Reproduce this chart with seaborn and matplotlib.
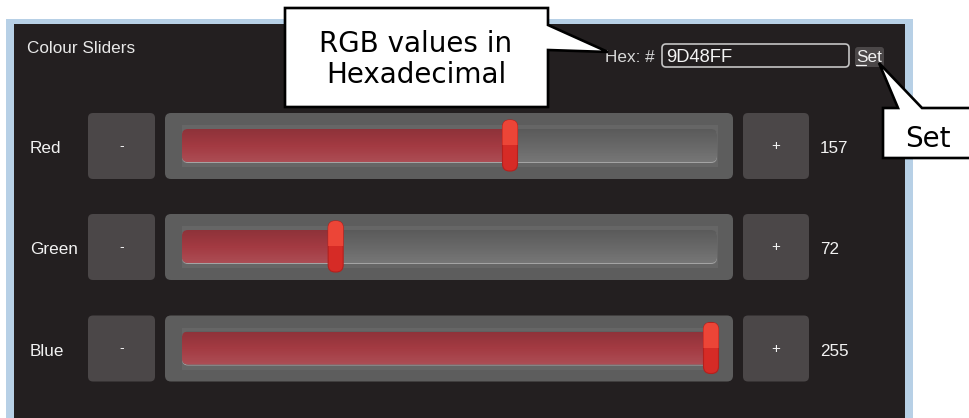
import numpy as np
import matplotlib
matplotlib.use("Agg")
import matplotlib.pyplot as plt
from matplotlib.patches import FancyBboxPatch, Rectangle, Polygon
import seaborn as sns

# Widget data
title = "Colour Sliders"
channels = ["Red", "Green", "Blue"]
values = [157, 72, 255]
max_value = 255
hex_value = "9D48FF"
callout_hex = ["RGB values in", "Hexadecimal"]
callout_set = "Set"

sns.set_theme(style="white")
plt.rcParams['font.family'] = ['Liberation Sans', 'DejaVu Sans']

BG = '#231f20'
PANEL = '#5d5d5d'
BUTTON = '#4b4748'
TEXT = '#f2f2f2'

row_y = [146, 247, 348.5]
track_x0, track_x1 = 182, 717


def thumb_x(v):
    # thumb centre travels from 188 px (0) to 711 px (255)
    return 188 + 523 * v / max_value


def rbox(ax, x, y, w, h, r, **kw):
    p = FancyBboxPatch((x, y), w, h, boxstyle=f"round,pad=0,rounding_size={r}", **kw)
    ax.add_patch(p)
    return p


fig = plt.figure(figsize=(9.69, 4.18), dpi=100)
fig.patch.set_facecolor('white')
ax = fig.add_axes([0, 0, 1, 1])

# window frame
ax.add_patch(Rectangle((6, 19), 907, 402, facecolor='#b7d0e6', edgecolor='none'))
ax.add_patch(Rectangle((14, 24), 891, 397, facecolor=BG, edgecolor='none'))

ax.text(27, 53, title, color='#e8e8e8', fontsize=12.3, va='baseline')

# hex entry
ax.text(605, 61.5, "Hex: #", color='#d8d8d8', fontsize=12.3, va='baseline')
rbox(ax, 662, 44, 187, 23, 4, facecolor=BG, edgecolor='#c4c4c4', lw=1.2)
ax.text(666, 61.5, hex_value, color='#f4f4f4', fontsize=13.2, va='baseline')
rbox(ax, 855, 47, 29, 20, 3, facecolor=BUTTON, edgecolor='none')
ax.text(856, 61.5, "Set", color='#f0f0f0', fontsize=12.3, va='baseline')
ax.plot([856, 866], [64.5, 64.5], color='#f0f0f0', lw=0.9)

# gradient overlay for the track (slightly dark top, slightly light bottom)
t = np.linspace(0, 1, 64)
shade = np.zeros((64, 2, 4))
shade[..., :3] = np.where(t[:, None, None] < 0.5, 0.0, 1.0)
shade[..., 3] = np.where(t < 0.5, 0.13 * (1 - t / 0.5), 0.10 * (t - 0.5) / 0.5)[:, None]

for name, v, c in zip(channels, values, row_y):
    ax.text(30, c + 7, name, color=TEXT, fontsize=12.3, va='baseline')

    # minus / plus buttons
    rbox(ax, 88, c - 33, 67, 66, 5, facecolor=BUTTON, edgecolor='none')
    ax.text(121.5, c, "-", color=TEXT, fontsize=10, ha='center', va='center')
    rbox(ax, 743, c - 33, 66, 66, 5, facecolor=BUTTON, edgecolor='none')
    ax.text(776, c, "+", color=TEXT, fontsize=11, ha='center', va='center')
    ax.text(820, c + 7, str(v), color=TEXT, fontsize=12.3, va='baseline')

    # slider panel and groove
    rbox(ax, 165, c - 33, 568, 66, 6, facecolor=PANEL, edgecolor='none')
    ax.add_patch(Rectangle((182, c - 21), 536, 42, facecolor='#666666', edgecolor='none'))
    rbox(ax, track_x0, c - 16, track_x1 - track_x0, 33, 6, facecolor='#a4a4a4', edgecolor='none')
    track = rbox(ax, track_x0, c - 17, track_x1 - track_x0, 33, 6,
                 facecolor='#686868', edgecolor='none')

    # filled part of the track
    bars = ax.barh(c - 0.5, thumb_x(v) - track_x0, left=track_x0, height=33,
                   color='#a33a42', edgecolor='none')
    for b in bars:
        b.set_clip_path(track)
    ax.imshow(shade, extent=(track_x0, track_x1, c + 16, c - 17), aspect='auto',
              interpolation='bilinear', clip_path=track, zorder=2)

    # thumb
    tx = thumb_x(v)
    thumb = rbox(ax, tx - 7.5, c - 26, 15, 51, 7, facecolor='#d62b26',
                 edgecolor='#b5201d', lw=0.8, zorder=3)
    top = Rectangle((tx - 8, c - 26), 16, 25, facecolor='#ec4537', edgecolor='none', zorder=3)
    ax.add_patch(top)
    top.set_clip_path(thumb)

# callouts
lw = 1.9
ax.add_patch(Polygon([(285, 8), (548, 8), (548, 25), (608, 52), (548, 50),
                      (548, 107), (285, 107)], closed=True, facecolor='white',
                     edgecolor='black', lw=lw, joinstyle='miter', zorder=5))
ax.text(416, 52, callout_hex[0], family='DejaVu Sans', fontsize=20, color='black',
        ha='center', va='baseline', zorder=6)
ax.text(416, 83, callout_hex[1], family='DejaVu Sans', fontsize=20, color='black',
        ha='center', va='baseline', zorder=6)

ax.add_patch(Polygon([(883, 108), (898, 108), (879, 63), (922, 108), (980, 108),
                      (980, 158), (883, 158)], closed=True, facecolor='white',
                     edgecolor='black', lw=lw, joinstyle='miter', zorder=5))
ax.text(905, 147, callout_set, family='DejaVu Sans', fontsize=20, color='black',
        va='baseline', zorder=6)

ax.set_xlim(0, 969)
ax.set_ylim(418, 0)
ax.axis('off')

fig.savefig('out.png', dpi=100, facecolor=fig.get_facecolor())
